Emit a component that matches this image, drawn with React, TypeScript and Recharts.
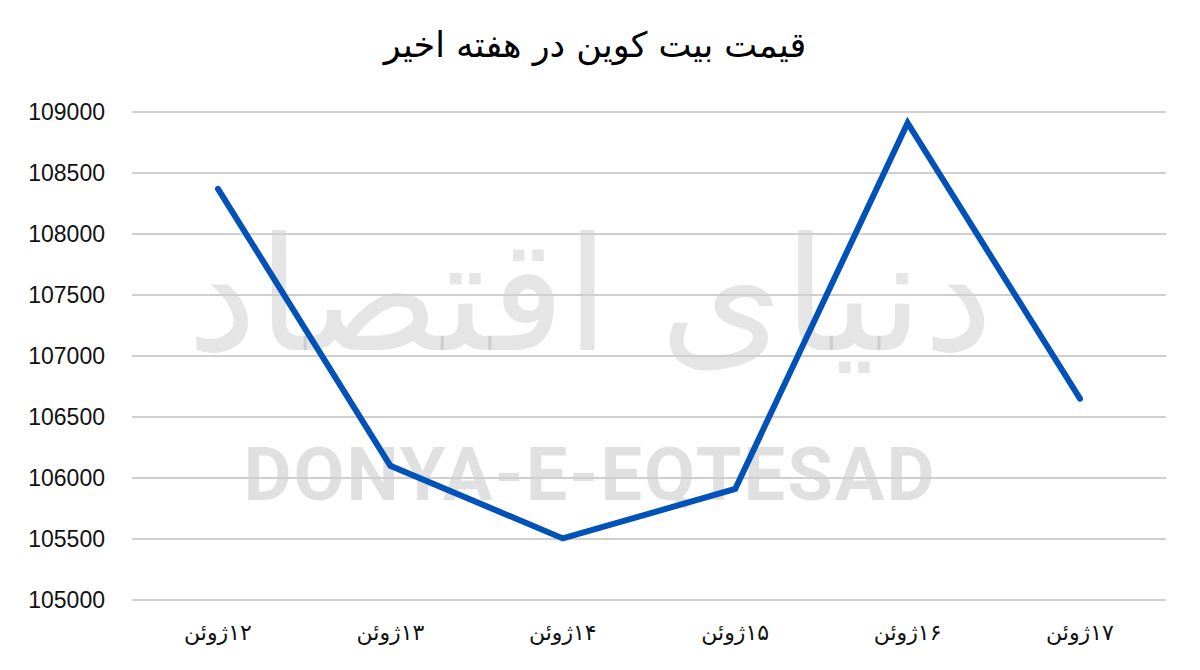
import { LineChart, Line, XAxis, YAxis, CartesianGrid } from "recharts"

const days = ["۱۲ژوئن", "۱۳ژوئن", "۱۴ژوئن", "۱۵ژوئن", "۱۶ژوئن", "۱۷ژوئن"]
const prices = [108370, 106100, 105505, 105910, 108910, 106650]
const yTicks = [105000, 105500, 106000, 106500, 107000, 107500, 108000, 108500, 109000]

const data = days.map((day, i) => ({ day, price: prices[i] }))

const DayTick = (props: any) => {
  const { x, y, payload } = props
  return (
    <text
      x={x}
      y={y + 40}
      textAnchor="middle"
      direction="rtl"
      fontSize={22}
      fontFamily="'DejaVu Sans', sans-serif"
      fill="#111"
    >
      {payload.value}
    </text>
  )
}

export default function App() {
  return (
    <div style={{ position: "absolute", left: 0, top: 0, width: 1200, height: 670, background: "#fff", overflow: "hidden" }}>
      {/* watermark */}
      <svg width={1200} height={670} style={{ position: "absolute", left: 0, top: 0 }}>
        <text
          x={590}
          y={350}
          textAnchor="middle"
          fontSize={158}
          fontFamily="'DejaVu Sans', sans-serif"
          fill="#000"
          fillOpacity={0.1}
        >
          دنیای اقتصاد
        </text>
        <text
          x={590}
          y={500}
          textAnchor="middle"
          fontSize={74}
          fontWeight="bold"
          fontFamily="Roboto, 'Liberation Sans', sans-serif"
          fill="#000"
          fillOpacity={0.12}
          letterSpacing={2}
        >
          DONYA-E-EQTESAD
        </text>
      </svg>
      <div
        style={{
          position: "absolute",
          left: 0,
          top: 25,
          width: 1190,
          textAlign: "center",
          fontSize: 35,
          fontFamily: "'DejaVu Sans', sans-serif",
          color: "#000",
          direction: "rtl",
        }}
      >
        قیمت بیت کوین در  هفته اخیر
      </div>
      <div style={{ position: "absolute", left: 0, top: 0 }}>
        <LineChart width={1200} height={670} data={data} margin={{ top: 112, right: 34, bottom: 10, left: 0 }}>
          <CartesianGrid vertical={false} stroke="#cfcfcf" strokeWidth={2} />
          <XAxis
            dataKey="day"
            axisLine={false}
            tickLine={false}
            tickSize={0}
            tickMargin={0}
            height={60}
            padding={{ left: 86, right: 86 }}
            tick={<DayTick />}
            interval={0}
          />
          <YAxis
            domain={[105000, 109000]}
            ticks={yTicks}
            width={132}
            axisLine={false}
            tickLine={false}
            tickSize={0}
            tickMargin={27}
            tick={{ fontSize: 23, fill: "#111", fontFamily: "'Liberation Sans', Arial, sans-serif" }}
          />
          <Line
            type="linear"
            dataKey="price"
            stroke="#0052b8"
            strokeWidth={6}
            strokeLinecap="round"
            dot={false}
            activeDot={false}
            isAnimationActive={false}
          />
        </LineChart>
      </div>
    </div>
  )
}
